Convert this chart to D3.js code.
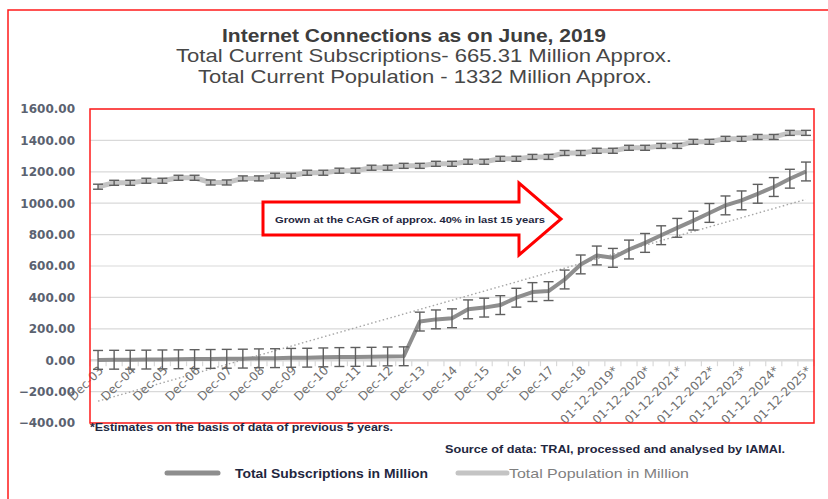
<!DOCTYPE html>
<html>
<head>
<meta charset="utf-8">
<script src="https://cdnjs.cloudflare.com/ajax/libs/d3/7.8.5/d3.min.js"></script>
<style>
  body { margin: 0; background: #fff; }
  svg { display: block; }
</style>
</head>
<body>
<div id="chart"></div>
<script>
// half-yearly points, Dec-03 .. Dec-25, only every second one is labelled
var tickLabels = ['Dec-03', 'Dec-04', 'Dec-05', 'Dec-06', 'Dec-07', 'Dec-08', 'Dec-09',
  'Dec-10', 'Dec-11', 'Dec-12', 'Dec-13', 'Dec-14', 'Dec-15', 'Dec-16', 'Dec-17', 'Dec-18',
  '01-12-2019*', '01-12-2020*', '01-12-2021*', '01-12-2022*', '01-12-2023*', '01-12-2024*', '01-12-2025*'];

var subscriptions = [2, 3, 3, 4, 5, 6, 7, 8, 9, 10, 12, 13, 15, 16, 18, 20, 21, 22, 24, 25,
  246, 260, 267, 324, 335, 351, 398, 434, 440, 514, 610, 667, 652, 705, 747, 796, 843, 889,
  938, 986, 1018, 1060, 1103, 1156, 1202];

var population = [1105, 1130, 1130, 1143, 1143, 1162, 1162, 1132, 1132, 1158, 1158, 1175, 1175,
  1194, 1194, 1207, 1207, 1226, 1226, 1238, 1238, 1251, 1251, 1264, 1264, 1283, 1283, 1295, 1295,
  1320, 1320, 1334, 1334, 1353, 1353, 1365, 1365, 1391, 1391, 1410, 1410, 1422, 1422, 1448, 1448];

var yTicks = [-400, -200, 0, 200, 400, 600, 800, 1000, 1200, 1400, 1600];

var errSubs = 60,   // standard error bars
  errPop = 16;

var width = 828,
  height = 499,
  plotLeft = 90, plotRight = 814, plotTop = 109, plotBottom = 423,
  n = subscriptions.length;

var svg = d3.select('#chart').append('svg')
  .attr('width', width)
  .attr('height', height);

var x = d3.scaleBand().domain(d3.range(n)).range([plotLeft, plotRight]),
  y = d3.scaleLinear().domain([-400, 1600]).range([plotBottom, plotTop]),
  cx = function (i) { return x(i) + x.bandwidth() / 2; };

// outer frame
svg.append('rect')
  .attr('x', 8).attr('y', 10)
  .attr('width', 840).attr('height', 520)
  .style('fill', 'none')
  .style('stroke', '#ff1a1a')
  .style('stroke-width', 1.5);

// titles
var titles = [
  {t: 'Internet Connections as on June, 2019', x: 222, y: 42, len: 384, w: 'bold'},
  {t: 'Total Current Subscriptions- 665.31 Million Approx.', x: 176, y: 62, len: 496, w: 'normal'},
  {t: 'Total Current Population - 1332 Million Approx.', x: 198, y: 83, len: 454, w: 'normal'}
];
svg.append('g').selectAll('text')
  .data(titles)
  .enter()
  .append('text')
  .attr('x', function (d) { return d.x; })
  .attr('y', function (d) { return d.y; })
  .attr('textLength', function (d) { return d.len; })
  .attr('lengthAdjust', 'spacingAndGlyphs')
  .style('font-family', 'Liberation Sans, Arial, sans-serif')
  .style('font-size', '18.5px')
  .style('font-weight', function (d) { return d.w; })
  .style('fill', function (d) { return d.w === 'bold' ? '#3d3d3d' : '#474747'; })
  .text(function (d) { return d.t; });

// gridlines
svg.append('g')
  .selectAll('line')
  .data(yTicks)
  .enter()
  .append('line')
  .attr('x1', plotLeft).attr('x2', plotRight)
  .attr('y1', function (d) { return y(d); })
  .attr('y2', function (d) { return y(d); })
  .style('stroke', '#d9d9d9')
  .style('stroke-width', function (d) { return d === 0 ? 2.5 : 1.2; });

// category ticks on the zero line
svg.append('g')
  .selectAll('line')
  .data(d3.range(n + 1))
  .enter()
  .append('line')
  .attr('x1', function (d) { return plotLeft + d * x.step(); })
  .attr('x2', function (d) { return plotLeft + d * x.step(); })
  .attr('y1', y(0)).attr('y2', y(0) + 6)
  .style('stroke', '#d9d9d9')
  .style('stroke-width', 1.2);

// y labels
svg.append('g')
  .selectAll('text')
  .data(yTicks)
  .enter()
  .append('text')
  .attr('x', 75)
  .attr('y', function (d) { return y(d); })
  .attr('dy', '0.36em')
  .attr('text-anchor', 'end')
  .style('font-family', 'DejaVu Sans, sans-serif')
  .style('font-size', '12px')
  .style('font-weight', 'bold')
  .style('fill', '#5b6270')
  .text(d3.format('.2f'));

// linear trendline of the subscriptions (least squares, as the spreadsheet did)
var mx = d3.mean(d3.range(n)),
  my = d3.mean(subscriptions),
  slope = d3.sum(subscriptions, function (v, i) { return (i - mx) * (v - my); }) /
    d3.sum(d3.range(n), function (i) { return (i - mx) * (i - mx); }),
  trend = [0, n - 1].map(function (i) { return [i, my + slope * (i - mx)]; });

svg.append('line')
  .attr('x1', cx(trend[0][0])).attr('y1', y(trend[0][1]))
  .attr('x2', cx(trend[1][0])).attr('y2', y(trend[1][1]))
  .style('stroke', '#a6a6a6')
  .style('stroke-width', 1.4)
  .style('stroke-dasharray', '1.5,2.5');

// x labels
svg.append('g')
  .selectAll('text')
  .data(tickLabels)
  .enter()
  .append('text')
  .attr('transform', function (d, i) {
    return 'translate(' + (cx(i * 2) + 3) + ',' + (y(0) + 8) + ') rotate(-45)';
  })
  .attr('dy', '0.35em')
  .attr('text-anchor', 'end')
  .style('font-family', 'DejaVu Sans, sans-serif')
  .style('font-size', '12px')
  .style('fill', '#707070')
  .text(function (d) { return d; });

var line = d3.line()
  .x(function (d, i) { return cx(i); })
  .y(function (d) { return y(d); });

svg.append('path')
  .datum(population)
  .attr('d', line)
  .style('fill', 'none')
  .style('stroke', '#c4c4c4')
  .style('stroke-width', 5)
  .style('stroke-linejoin', 'round');

svg.append('path')
  .datum(subscriptions)
  .attr('d', line)
  .style('fill', 'none')
  .style('stroke', '#8e8e8e')
  .style('stroke-width', 4)
  .style('stroke-linejoin', 'round');

function errorBars(values, err) {
  var g = svg.append('g')
    .style('stroke', '#5f5f5f')
    .style('stroke-width', 1.4);
  var bars = g.selectAll('g')
    .data(values)
    .enter()
    .append('g');
  bars.append('line')
    .attr('x1', function (d, i) { return cx(i); })
    .attr('x2', function (d, i) { return cx(i); })
    .attr('y1', function (d) { return y(d + err); })
    .attr('y2', function (d) { return y(d - err); });
  [err, -err].forEach(function (e) {
    bars.append('line')
      .attr('x1', function (d, i) { return cx(i) - 5; })
      .attr('x2', function (d, i) { return cx(i) + 5; })
      .attr('y1', function (d) { return y(d + e); })
      .attr('y2', function (d) { return y(d + e); });
  });
}
errorBars(population, errPop);
errorBars(subscriptions, errSubs);

// plot area border
svg.append('rect')
  .attr('x', plotLeft).attr('y', plotTop)
  .attr('width', plotRight - plotLeft).attr('height', plotBottom - plotTop)
  .style('fill', 'none')
  .style('stroke', '#ff1a1a')
  .style('stroke-width', 1.5);

// arrow callout
svg.append('path')
  .attr('d', 'M263,202 L519,202 L519,183 L561,219 L519,255 L519,235 L263,235 Z')
  .style('fill', '#fff')
  .style('stroke', '#ff0000')
  .style('stroke-width', 3);

var notes = [
  {t: 'Grown at the CAGR of approx. 40% in last 15 years', x: 275, y: 223, len: 270, s: 9.5},
  {t: '*Estimates on the basis of data of previous 5 years.', x: 90, y: 431, len: 303, s: 10.5},
  {t: 'Source of data: TRAI, processed and analysed by IAMAI.', x: 445, y: 453, len: 340, s: 11}
];
svg.append('g').selectAll('text')
  .data(notes)
  .enter()
  .append('text')
  .attr('x', function (d) { return d.x; })
  .attr('y', function (d) { return d.y; })
  .attr('textLength', function (d) { return d.len; })
  .attr('lengthAdjust', 'spacingAndGlyphs')
  .style('font-family', 'Liberation Sans, Arial, sans-serif')
  .style('font-size', function (d) { return d.s + 'px'; })
  .style('font-weight', 'bold')
  .style('fill', '#1f2740')
  .text(function (d) { return d.t; });

// legend
var legend = [
  {t: 'Total Subscriptions in Million', x1: 167, x2: 218, tx: 235, len: 193, c: '#8e8e8e', tc: '#1f2740', w: 'bold'},
  {t: 'Total Population in Million', x1: 458, x2: 507, tx: 509, len: 180, c: '#c4c4c4', tc: '#7f7f7f', w: 'normal'}
];
var lg = svg.append('g').selectAll('g')
  .data(legend)
  .enter()
  .append('g');
lg.append('line')
  .attr('x1', function (d) { return d.x1; })
  .attr('x2', function (d) { return d.x2; })
  .attr('y1', 473).attr('y2', 473)
  .style('stroke', function (d) { return d.c; })
  .style('stroke-width', 5)
  .style('stroke-linecap', 'round');
lg.append('text')
  .attr('x', function (d) { return d.tx; })
  .attr('y', 478)
  .attr('textLength', function (d) { return d.len; })
  .attr('lengthAdjust', 'spacingAndGlyphs')
  .style('font-family', 'Liberation Sans, Arial, sans-serif')
  .style('font-size', '13px')
  .style('font-weight', function (d) { return d.w; })
  .style('fill', function (d) { return d.tc; })
  .text(function (d) { return d.t; });
</script>
</body>
</html>
